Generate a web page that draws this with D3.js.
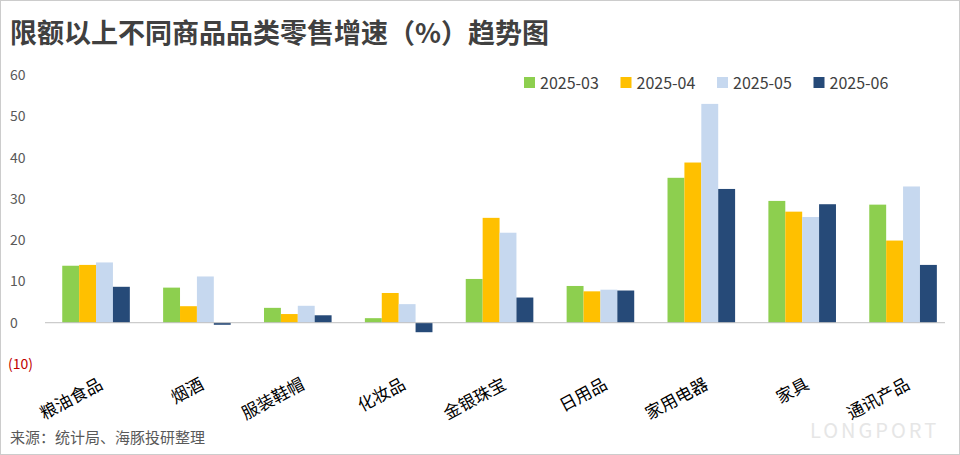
<!DOCTYPE html>
<html><head><meta charset="utf-8">
<script src="https://cdn.jsdelivr.net/npm/d3@7"></script>
<style>body{margin:0;background:#fff;font-family:"Noto Sans CJK SC","Noto Sans",sans-serif}</style>
</head><body><svg id="c" width="960" height="455"></svg>
<script>
const categories=["粮油食品","烟酒","服装鞋帽","化妆品","金银珠宝","日用品","家用电器","家具","通讯产品"];
const seriesNames=["2025-03","2025-04","2025-05","2025-06"];
const s202503=[13.8,8.5,3.6,1.1,10.6,8.9,35.1,29.5,28.6];
const s202504=[14.0,4.0,2.1,7.2,25.4,7.6,38.8,26.9,19.9];
const s202505=[14.6,11.2,4.1,4.5,21.8,8.0,53.0,25.6,33.0];
const s202506=[8.7,-0.5,1.8,-2.3,6.1,7.8,32.4,28.7,14.0];
const yTicks=[-10,0,10,20,30,40,50,60];
const colors=["#8dcf4f","#ffc000","#c6d8ef","#264a78"];
const series=[s202503,s202504,s202505,s202506];
const svg=d3.select("#c");
svg.append("rect").attr("x",0.5).attr("y",0.5).attr("width",959).attr("height",454).attr("fill","none").attr("stroke","#ccc");
svg.append("text").attr("x",10).attr("y",43).attr("font-size",27).attr("font-weight","bold").attr("fill","#404040").text("限额以上不同商品品类零售增速（%）趋势图");
const y=d3.scaleLinear().domain([-10,60]).range([364,75]);
const x=d3.scaleBand().domain(categories).range([45.6,953.5]).paddingInner(0.33).paddingOuter(0.165);
const xi=d3.scaleBand().domain(d3.range(4)).range([0,x.bandwidth()]);
yTicks.forEach(t=>{svg.append("text").attr("x",t<0?8:10).attr("y",y(t)+5).attr("font-size",14).attr("fill",t<0?"#c00000":"#595959").text(t<0?"("+(-t)+")":t);});
categories.forEach((c,i)=>{
 series.forEach((s,j)=>{
  const v=s[i];
  svg.append("rect").attr("x",x(c)+xi(j)).attr("width",xi.bandwidth()).attr("y",y(Math.max(0,v))).attr("height",Math.abs(y(v)-y(0))).attr("fill",colors[j]);
 });
 const cx=x(c)+x.bandwidth()/2;
 svg.append("text").attr("transform",`translate(${cx+8},388) rotate(-28)`).attr("text-anchor","end").attr("font-size",17).attr("fill","#000").text(c);
});
svg.append("line").attr("x1",45).attr("x2",945).attr("y1",y(0)).attr("y2",y(0)).attr("stroke","#bfbfbf");
const lg=svg.append("g");
let lx=524;
seriesNames.forEach((n,j)=>{
 lg.append("rect").attr("x",lx).attr("y",77).attr("width",11).attr("height",11).attr("fill",colors[j]);
 lg.append("text").attr("x",lx+16).attr("y",89).attr("font-size",16).attr("fill","#404040").text(n);
 lx+=96.5;
});
svg.append("text").attr("x",10).attr("y",443).attr("font-size",15).attr("fill","#595959").text("来源：统计局、海豚投研整理");
svg.append("text").attr("x",810).attr("y",438).attr("font-size",20).attr("fill","#e6e6e6").attr("letter-spacing",3).text("LONGPORT");
</script></body></html>
